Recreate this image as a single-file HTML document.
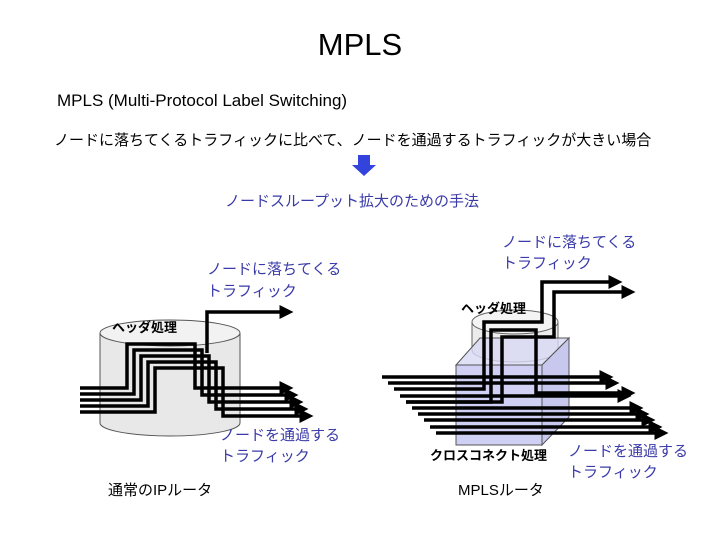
<!DOCTYPE html>
<html><head><meta charset="utf-8"><style>
body{margin:0;background:#fff}
svg{display:block}
text{font-family:"Liberation Sans","Noto Sans CJK JP",sans-serif}
.b{fill:#3a3aa8}
</style></head><body>
<svg width="720" height="540" viewBox="0 0 720 540">
<defs><marker id="a" markerWidth="6" markerHeight="6" refX="1" refY="3" orient="auto" markerUnits="strokeWidth"><path d="M0,1 L4,3 L0,5 Z" fill="#000"/></marker></defs>
<text x="360" y="55" font-size="31" text-anchor="middle">MPLS</text>
<text x="57" y="106" font-size="17">MPLS (Multi-Protocol Label Switching)</text>
<text x="54" y="145" font-size="15">ノードに落ちてくるトラフィックに比べて、ノードを通過するトラフィックが大きい場合</text>
<path d="M358,155 h12 v10 h6 l-12,11 l-12,-11 h6 z" fill="#3344dd"/>
<text x="352" y="206" font-size="15" text-anchor="middle" class="b">ノードスループット拡大のための手法</text>
<text x="207" y="274" font-size="15" class="b">ノードに落ちてくる</text>
<text x="207" y="296" font-size="15" class="b">トラフィック</text>
<text x="502" y="247" font-size="15" class="b">ノードに落ちてくる</text>
<text x="502" y="268" font-size="15" class="b">トラフィック</text>

<!-- left cylinder -->
<path d="M100,333 V423 A70,13 0 0 0 240,423 V333" fill="#e8e8e8" stroke="#555"/>
<ellipse cx="170" cy="333" rx="70" ry="13" fill="#f2f2f2" stroke="#555"/>
<text x="112" y="332" font-size="13" font-weight="bold">ヘッダ処理</text>
<g fill="none" stroke="#000" stroke-width="3.5">
<path d="M207,353 V312 H283" marker-end="url(#a)"/>
<path d="M80,388 H127 V344 H195 V388 H283" marker-end="url(#a)"/>
<path d="M80,394 H134 V350 H202 V395 H288" marker-end="url(#a)"/>
<path d="M80,400 H141 V356 H209 V402 H293" marker-end="url(#a)"/>
<path d="M80,406 H148 V362 H216 V409 H298" marker-end="url(#a)"/>
<path d="M80,412 H155 V368 H223 V416 H303" marker-end="url(#a)"/>
</g>
<text x="220" y="440" font-size="15" class="b">ノードを通過する</text>
<text x="220" y="461" font-size="15" class="b">トラフィック</text>
<text x="108" y="495" font-size="15">通常のIPルータ</text>

<!-- right -->
<path d="M472,322 V350 A43,12 0 0 0 558,350 V322" fill="#ececec" stroke="#666"/>
<ellipse cx="515" cy="322" rx="43" ry="12" fill="#f4f4f4" stroke="#666"/>
<path d="M456,365 L480,338 H569 L542,365 Z" fill="#d8d8f4" fill-opacity="0.8" stroke="#555"/>
<path d="M542,365 L569,338 V417 L542,445 Z" fill="#c8c8ee" stroke="#555"/>
<rect x="456" y="365" width="86" height="80" fill="#d0d0f4" stroke="#555"/>
<text x="461" y="313" font-size="13" font-weight="bold">ヘッダ処理</text>
<g fill="none" stroke="#000" stroke-width="3.5">
<path d="M382,377 H603" marker-end="url(#a)"/>
<path d="M388,383 H609" marker-end="url(#a)"/>
<path d="M400,396 H621" marker-end="url(#a)"/>
<path d="M412,408 H633" marker-end="url(#a)"/>
<path d="M418,414 H639" marker-end="url(#a)"/>
<path d="M424,420 H645" marker-end="url(#a)"/>
<path d="M430,427 H652" marker-end="url(#a)"/>
<path d="M436,433 H658" marker-end="url(#a)"/>
<path d="M394,389 H484 V322 H542 V282 H612" marker-end="url(#a)"/>
<path d="M406,402 H491 V330 H536 V393 H625" marker-end="url(#a)"/>
<path d="M406,402 H502 V337 H554 V292 H625" marker-end="url(#a)"/>
</g>
<text x="430" y="460" font-size="13" font-weight="bold">クロスコネクト処理</text>
<text x="568" y="456" font-size="15" class="b">ノードを通過する</text>
<text x="568" y="477" font-size="15" class="b">トラフィック</text>
<text x="458" y="495" font-size="15">MPLSルータ</text>
</svg>
</body></html>
